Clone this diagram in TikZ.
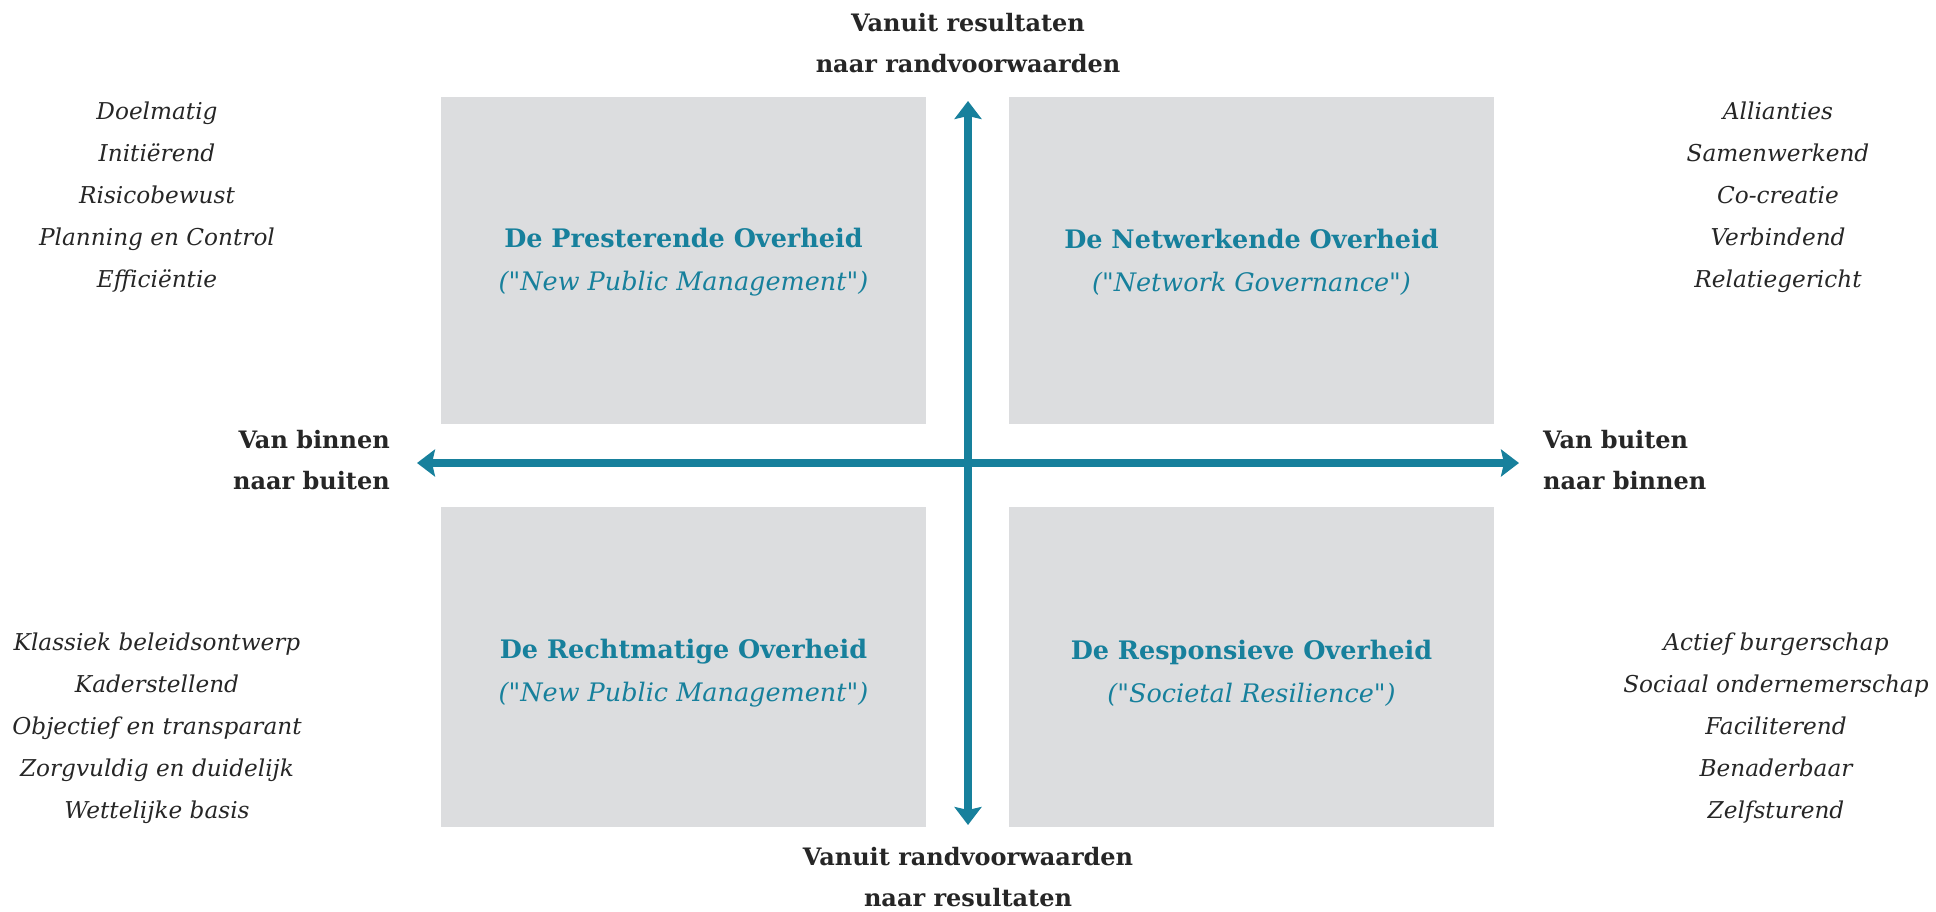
\documentclass[tikz,border=0pt]{standalone}
\usepackage{fontspec}
\setmainfont{DejaVu Serif}
\usetikzlibrary{arrows.meta}

\definecolor{teal}{HTML}{17809C}
\definecolor{boxgrey}{HTML}{DCDDDF}
\definecolor{inkgrey}{HTML}{262626}

\tikzset{quadrant/.style={fill=boxgrey, draw=none}}
\tikzset{axis/.style={teal, line width=8pt, {Stealth[inset=3pt,width=27pt,length=18pt]}-{Stealth[inset=3pt,width=27pt,length=18pt]}}}
\tikzset{axislabel/.style={inkgrey, font=\bfseries\fontsize{24}{41}\selectfont, align=center, inner sep=0pt}}
\tikzset{title/.style={teal, align=center, inner sep=0pt, font=\fontsize{25.5}{43}\selectfont}}
\tikzset{traits/.style={inkgrey, align=center, inner sep=0pt, font=\itshape\fontsize{23.2}{42}\selectfont}}
\newcommand{\qt}{\textquotedbl}

\begin{document}
\begin{tikzpicture}[x=1pt, y=-1pt]
  \useasboundingbox (0,0) rectangle (1936,912);
  % quadrants
  \fill [quadrant] (441,97) rectangle (926,424);
  \fill [quadrant] (1009,97) rectangle (1494,424);
  \fill [quadrant] (441,507) rectangle (926,827);
  \fill [quadrant] (1009,507) rectangle (1494,827);
  % axes
  \coordinate (top) at (968,101);
  \coordinate (bottom) at (968,825);
  \coordinate (left) at (417,463);
  \coordinate (right) at (1519,463);
  \draw [axis] (bottom) -- (top);
  \draw [axis] (left) -- (right);
  % axis labels
  \node [axislabel] (toplabel) at (968,43) {Vanuit resultaten\\naar randvoorwaarden};
  \node [axislabel] (bottomlabel) at (968,877) {Vanuit randvoorwaarden\\naar resultaten};
  \node [axislabel, anchor=east, align=right] (leftlabel) at (390,460) {Van binnen\\naar buiten};
  \node [axislabel, anchor=west, align=left] (rightlabel) at (1543,460) {Van buiten\\naar binnen};
  % quadrant titles
  \node [title] (presterend) at (683.5,262) {\textbf{De Presterende Overheid}\\\textit{(\qt New Public Management\qt)}};
  \node [title] (netwerkend) at (1251.5,262) {\textbf{De Netwerkende Overheid}\\\textit{(\qt Network Governance\qt)}};
  \node [title] (rechtmatig) at (683.5,673) {\textbf{De Rechtmatige Overheid}\\\textit{(\qt New Public Management\qt)}};
  \node [title] (responsief) at (1251.5,673) {\textbf{De Responsieve Overheid}\\\textit{(\qt Societal Resilience\qt)}};
  % traits
  \node [traits] (traitsTL) at (157,197) {Doelmatig\\Initiërend\\Risicobewust\\Planning en Control\\Efficiëntie};
  \node [traits] (traitsTR) at (1778,197) {Allianties\\Samenwerkend\\Co-creatie\\Verbindend\\Relatiegericht};
  \node [traits] (traitsBL) at (157,728) {Klassiek beleidsontwerp\\Kaderstellend\\Objectief en transparant\\Zorgvuldig en duidelijk\\Wettelijke basis};
  \node [traits] (traitsBR) at (1776,728) {Actief burgerschap\\Sociaal ondernemerschap\\Faciliterend\\Benaderbaar\\Zelfsturend};
\end{tikzpicture}
\end{document}
